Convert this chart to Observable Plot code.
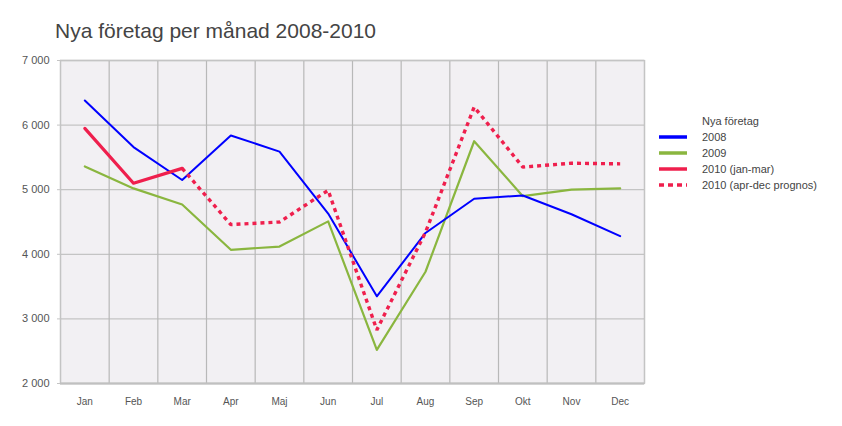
<!DOCTYPE html>
<html>
<head>
<meta charset="utf-8">
<script src="https://cdn.jsdelivr.net/npm/d3@7"></script>
<script src="https://cdn.jsdelivr.net/npm/@observablehq/plot@0.6"></script>
<style>
  body { margin: 0; background: #fff; font-family: "Liberation Sans", Arial, sans-serif; }
  #wrap { position: relative; width: 842px; height: 426px; }
  #title { position: absolute; left: 55px; top: 19px; font-size: 21px; color: #444; white-space: nowrap; }
  #legend { position: absolute; left: 659px; top: 113px; font-size: 11px; color: #444; }
  #legend .row { height: 16px; display: flex; align-items: center; white-space: nowrap; }
  #legend svg { margin-right: 14px; }
</style>
</head>
<body>
<div id="wrap">
  <div id="chart"></div>
  <div id="title">Nya företag per månad 2008-2010</div>
  <div id="legend"></div>
</div>
<script>
const months = ["Jan","Feb","Mar","Apr","Maj","Jun","Jul","Aug","Sep","Okt","Nov","Dec"];
const s2008 = [6380, 5660, 5150, 5840, 5590, 4630, 3350, 4330, 4860, 4910, 4620, 4280];
const s2009 = [5360, 5020, 4770, 4070, 4120, 4510, 2520, 3730, 5750, 4900, 5000, 5020];
const s2010a = [5950, 5100, 5330];              // Jan–Mar
const s2010b = [5330, 4460, 4500, 4990, 2830, 4340, 6280, 5350, 5410, 5400]; // Mar–Dec
const yTicks = [2000, 3000, 4000, 5000, 6000, 7000];

const seriesNames = ["2008", "2009", "2010 (jan-mar)", "2010 (apr-dec prognos)"];
const colors = ["#0000ff", "#8ab63f", "#ef1f4d", "#ef1f4d"];
const widths = [2, 2.2, 3.2, 3.4];
const dashes = [null, null, null, "4,4"];

const rows = (vals, offset, name) => vals.map((v, i) => ({month: months[i + offset], idx: i + offset, value: v, series: name}));
const d2008 = rows(s2008, 0, seriesNames[0]);
const d2009 = rows(s2009, 0, seriesNames[1]);
const d2010a = rows(s2010a, 0, seriesNames[2]);
const d2010b = rows(s2010b, 2, seriesNames[3]);

const fmt = d => d3.format(",")(d).replace(/,/g, " ");
const xc = d => d.idx + 0.5;

const chart = Plot.plot({
  width: 842,
  height: 426,
  marginLeft: 60,
  marginRight: 198,
  marginTop: 60,
  marginBottom: 43,
  style: {fontFamily: "Liberation Sans, Arial, sans-serif", background: "transparent"},
  x: {domain: [0, 12]},
  y: {domain: [2000, 7000]},
  marks: [
    Plot.frame({fill: "#f2f0f3", stroke: "none"}),
    Plot.gridY(yTicks, {stroke: "#c4c4c4", strokeOpacity: 1, strokeWidth: 1.3}),
    Plot.gridX(d3.range(0, 13), {stroke: "#b8b8b8", strokeOpacity: 1, strokeWidth: 1.2}),
    Plot.frame({stroke: "#c4c4c4", strokeWidth: 1.3}),
    Plot.axisY(yTicks, {tickSize: 3, tickPadding: 8, tickFormat: fmt, fontSize: 11, color: "#555", stroke: "#c4c4c4", label: null}),
    Plot.axisX(d3.range(12).map(i => i + 0.5), {tickSize: 0, tickPadding: 14, tickFormat: v => months[Math.floor(v)], fontSize: 10, color: "#555", label: null}),
    Plot.ruleY([2000], {stroke: "#c0c0c0", strokeWidth: 2}),
    Plot.line(d2009, {x: xc, y: "value", stroke: colors[1], strokeWidth: widths[1]}),
    Plot.line(d2008, {x: xc, y: "value", stroke: colors[0], strokeWidth: widths[0]}),
    Plot.line(d2010b, {x: xc, y: "value", stroke: colors[3], strokeWidth: widths[3], strokeDasharray: dashes[3], strokeLinecap: "butt", strokeLinejoin: "miter"}),
    Plot.line(d2010a, {x: xc, y: "value", stroke: colors[2], strokeWidth: widths[2]})
  ]
});
document.getElementById("chart").appendChild(chart);

const legend = document.getElementById("legend");
const head = document.createElement("div");
head.className = "row";
head.style.paddingLeft = "43px";
head.textContent = "Nya företag";
legend.appendChild(head);
seriesNames.forEach((name, i) => {
  const row = document.createElement("div");
  row.className = "row";
  row.innerHTML = `<svg width="29" height="6"><line x1="0" x2="28" y1="3" y2="3" stroke="${colors[i]}" stroke-width="3.5" ${dashes[i] ? `stroke-dasharray="5,4"` : ""}/></svg><span>${name}</span>`;
  legend.appendChild(row);
});
</script>
</body>
</html>
